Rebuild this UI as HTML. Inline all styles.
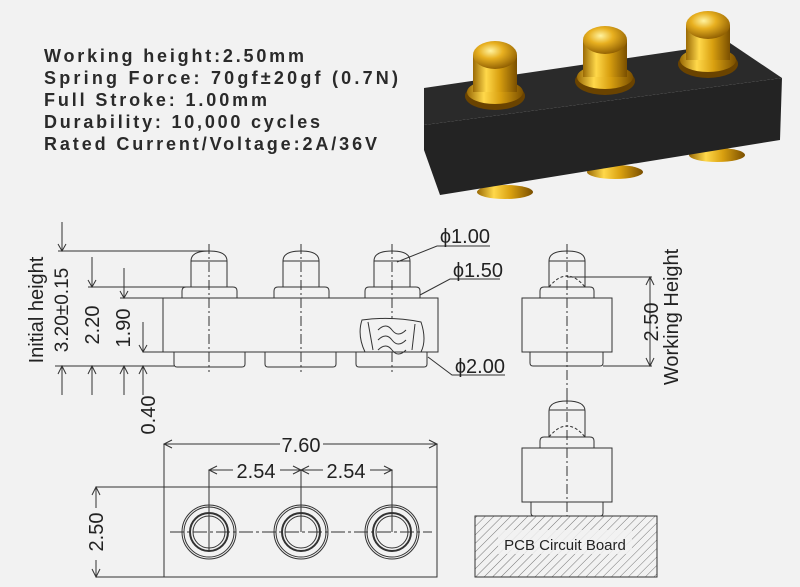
<!DOCTYPE html>
<html><head><meta charset="utf-8"><style>
html,body{margin:0;padding:0;background:#f2f2f2;}
svg{display:block;font-family:"Liberation Sans",sans-serif;}
</style></head><body>
<svg width="800" height="587" viewBox="0 0 800 587" xmlns="http://www.w3.org/2000/svg">
<defs>
<radialGradient id="g" cx="40%" cy="35%" r="70%"><stop offset="0" stop-color="#fff3a0"/><stop offset="0.4" stop-color="#e8b020"/><stop offset="1" stop-color="#8a5a00"/></radialGradient>
<linearGradient id="gc" x1="0" x2="1"><stop offset="0" stop-color="#9a6a05"/><stop offset="0.3" stop-color="#ffd84a"/><stop offset="0.6" stop-color="#d9a010"/><stop offset="1" stop-color="#7a4f00"/></linearGradient>
<pattern id="h" width="6" height="6" patternUnits="userSpaceOnUse" patternTransform="rotate(45)"><line x1="0" y1="0" x2="0" y2="6" stroke="#555" stroke-width="0.8"/></pattern>
</defs>
<rect width="800" height="587" fill="#f2f2f2"/>
<g font-weight="bold" font-size="18" fill="#2a2a2a">
<text x="44" y="62" textLength="260" lengthAdjust="spacing">Working height:2.50mm</text>
<text x="44" y="84" textLength="354" lengthAdjust="spacing">Spring Force: 70gf±20gf (0.7N)</text>
<text x="44" y="106" textLength="223" lengthAdjust="spacing">Full Stroke: 1.00mm</text>
<text x="44" y="128" textLength="276" lengthAdjust="spacing">Durability: 10,000 cycles</text>
<text x="44" y="150" textLength="333" lengthAdjust="spacing">Rated Current/Voltage:2A/36V</text>
</g>
<ellipse cx="505" cy="192" rx="28" ry="7" fill="url(#gc)"/>
<ellipse cx="615" cy="172" rx="28" ry="7" fill="url(#gc)"/>
<ellipse cx="717" cy="155" rx="28" ry="7" fill="url(#gc)"/>
<polygon points="424,88 730,43 782,78 424,125" fill="#2a2a2a"/>
<polygon points="424,125 782,78 780,140 440,195 424,150" fill="#232323"/>
<g>
<ellipse cx="495" cy="96" rx="30" ry="14" fill="#6a4300"/>
<ellipse cx="495" cy="92" rx="28" ry="12" fill="url(#gc)"/>
<rect x="473" y="55" width="44" height="37" fill="url(#gc)"/>
<ellipse cx="495" cy="55" rx="22" ry="14" fill="url(#g)"/>
<ellipse cx="605" cy="81" rx="30" ry="14" fill="#6a4300"/>
<ellipse cx="605" cy="77" rx="28" ry="12" fill="url(#gc)"/>
<rect x="583" y="40" width="44" height="37" fill="url(#gc)"/>
<ellipse cx="605" cy="40" rx="22" ry="14" fill="url(#g)"/>
<ellipse cx="708" cy="64" rx="30" ry="14" fill="#6a4300"/>
<ellipse cx="708" cy="60" rx="28" ry="12" fill="url(#gc)"/>
<rect x="686" y="25" width="44" height="35" fill="url(#gc)"/>
<ellipse cx="708" cy="25" rx="22" ry="14" fill="url(#g)"/>
</g>
<g fill="none" stroke="#333" stroke-width="1">
<rect x="163" y="298" width="275" height="54"/>
<path d="M174,352 v12 q0,3 3,3 h65 q3,0 3,-3 v-12 M265,352 v12 q0,3 3,3 h65 q3,0 3,-3 v-12 M356,352 v12 q0,3 3,3 h65 q3,0 3,-3 v-12"/>
<path d="M182,298 v-7 q0,-4 4,-4 h47 q4,0 4,4 v7 M274,298 v-7 q0,-4 4,-4 h47 q4,0 4,4 v7 M365,298 v-7 q0,-4 4,-4 h47 q4,0 4,4 v7"/>
<path d="M191,287 v-26 q0,-10 18,-10 q18,0 18,10 v26 M283,287 v-26 q0,-10 18,-10 q18,0 18,10 v26 M374,287 v-26 q0,-10 18,-10 q18,0 18,10 v26"/>
<path d="M191,261 h36 M283,261 h36 M374,261 h36"/>
<path d="M209,244 V372 M301,244 V372 M392,244 V372" stroke-dasharray="10,3,2,3"/>
<path d="M362,320 q-5,15 3,32 h56 q6,-12 0,-30 q-30,-6 -59,-2 z" fill="#f2f2f2"/>
<path d="M368,322 l5,28 M415,324 l-3,26 M378,330 q8,-8 14,0 q6,8 14,0 M378,340 q8,-8 14,0 q6,8 14,0 M378,350 q8,-8 14,0 q6,8 14,0" />
<path d="M58,251 H209 M88,287 H191 M120,298 H163 M55,366 H174 M143,352 H163"/>
<path d="M62,222 V251 M92,257 V287 M124,268 V298 M143,322 V352 M62,366 V395 M92,366 V395 M124,366 V395 M143,366 V395"/>
<path d="M58,244 L62,251 L66,244 M88,280 L92,287 L96,280 M120,291 L124,298 L128,291 M139,345 L143,352 L147,345 M58,374 L62,366 L66,374 M88,374 L92,366 L96,374 M120,374 L124,366 L128,374 M139,374 L143,366 L147,374"/>
<path d="M397,262 L437,246 H490 M420,295 L450,279 H500 M428,357 L452,375 H505"/>
<rect x="522" y="298" width="90" height="54"/>
<path d="M530,352 v11 q0,3 3,3 h67 q3,0 3,-3 v-11 M540,298 v-7 q0,-4 4,-4 h46 q4,0 4,4 v7 M549,287 v-26 q0,-10 18,-10 q18,0 18,10 v26 M549,261 h36"/>
<path d="M549,287 q18,-22 36,0" stroke-dasharray="3,2"/>
<path d="M567,244 V400" stroke-dasharray="10,3,2,3"/>
<path d="M567,277 H652 M603,366 H652 M650,277 V366 M646,285 L650,277 L654,285 M646,358 L650,366 L654,358"/>
<rect x="522" y="448" width="90" height="54"/>
<path d="M531,502 v11 q0,3 3,3 h66 q3,0 3,-3 v-11 M540,448 v-7 q0,-4 4,-4 h46 q4,0 4,4 v7 M549,437 v-26 q0,-10 18,-10 q18,0 18,10 v26 M549,410 h36"/>
<path d="M549,437 q18,-22 36,0" stroke-dasharray="3,2"/>
<path d="M567,394 V516" stroke-dasharray="10,3,2,3"/>
<rect x="475" y="516" width="182" height="61" fill="url(#h)"/>
<rect x="164" y="487" width="273" height="90"/>
<path d="M164,444 V487 M437,444 V487 M164,444 H280 M323,444 H437 M172,440 L164,444 L172,448 M429,440 L437,444 L429,448"/>
<path d="M209,470 V552 M301,470 V532 M392,470 V532 M209,470 H233 M280,470 H301 M301,470 H323 M370,470 H392"/>
<path d="M217,466 L209,470 L217,474 M293,466 L301,470 L293,474 M309,466 L301,470 L309,474 M384,466 L392,470 L384,474"/>
<path d="M170,532 H432" stroke-dasharray="14,3,3,3"/>
<path d="M96,487 H164 M96,577 H164 M96,487 V508 M96,560 V577 M92,495 L96,487 L100,495 M92,569 L96,577 L100,569" />
</g>
<g fill="none" stroke="#333">
<circle cx="209" cy="532" r="27"/><circle cx="209" cy="532" r="25"/><circle cx="209" cy="532" r="19" stroke-width="2"/><circle cx="209" cy="532" r="16"/>
<circle cx="301" cy="532" r="27"/><circle cx="301" cy="532" r="25"/><circle cx="301" cy="532" r="19" stroke-width="2"/><circle cx="301" cy="532" r="16"/>
<circle cx="392" cy="532" r="27"/><circle cx="392" cy="532" r="25"/><circle cx="392" cy="532" r="19" stroke-width="2"/><circle cx="392" cy="532" r="16"/>
</g>
<rect x="498" y="530" width="134" height="24" fill="#f2f2f2" opacity="0.85"/>
<g fill="#222" font-size="20">
<text x="490" y="243" text-anchor="end">ϕ1.00</text>
<text x="503" y="277" text-anchor="end">ϕ1.50</text>
<text x="505" y="373" text-anchor="end">ϕ2.00</text>
<text x="301" y="452" text-anchor="middle">7.60</text>
<text x="256" y="478" text-anchor="middle">2.54</text>
<text x="346" y="478" text-anchor="middle">2.54</text>
<text transform="translate(103,532) rotate(-90)" text-anchor="middle">2.50</text>
<text transform="translate(43,310) rotate(-90)" text-anchor="middle">Initial height</text>
<text transform="translate(68,310) rotate(-90)" text-anchor="middle" font-size="19">3.20±0.15</text>
<text transform="translate(99,325) rotate(-90)" text-anchor="middle">2.20</text>
<text transform="translate(130,328) rotate(-90)" text-anchor="middle">1.90</text>
<text transform="translate(155,415) rotate(-90)" text-anchor="middle">0.40</text>
<text transform="translate(658,322) rotate(-90)" text-anchor="middle">2.50</text>
<text transform="translate(678,317) rotate(-90)" text-anchor="middle">Working Height</text>
<text x="565" y="550" text-anchor="middle" font-size="15">PCB Circuit Board</text>
</g>
</svg>
</body></html>
